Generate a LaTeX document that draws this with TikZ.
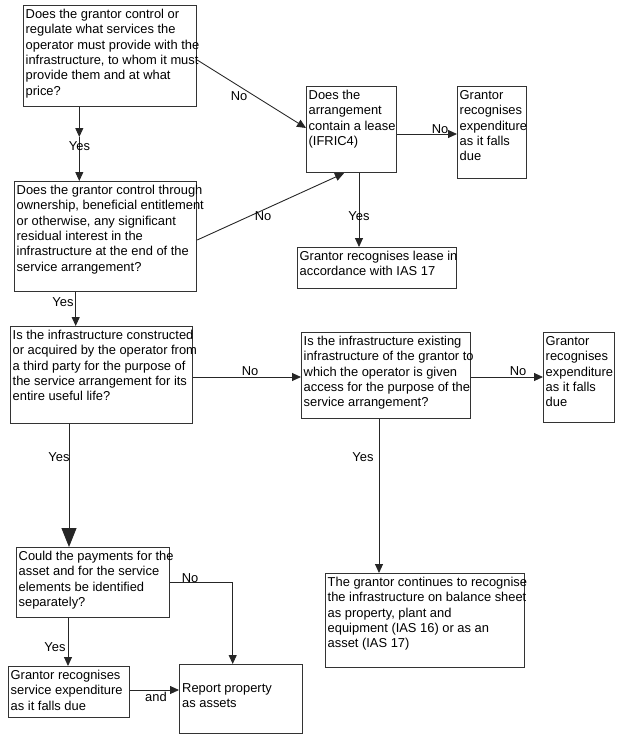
\documentclass[tikz,border=0pt]{standalone}
\usepackage{fontspec}
\setmainfont{Liberation Sans}
\usetikzlibrary{arrows.meta}
\newcommand\flowbox[6]{%
  \node[box,minimum width=#4pt,minimum height=#5pt] (#1) at (#2,#3) {};
  \node[txt] (#1t) at ([xshift=2.5pt,yshift=-2.6pt]#1.north west) {\strut#6};
}
\begin{document}
\begin{tikzpicture}[x=1pt,y=-1pt,
  box/.style={draw=black!80,line width=1.2pt,inner sep=0pt,anchor=north west},
  txt/.style={inner sep=0pt,anchor=north west,align=left,font=\fontsize{12.9}{15.3}\selectfont},
  lbl/.style={inner sep=0pt,anchor=base,font=\fontsize{12.9}{15.3}\selectfont},
  conn/.style={draw=black!85,line width=0.9pt},
  arr/.style={conn,-{Triangle[length=9pt,width=8pt]}},
  bigarr/.style={conn,-{Triangle[length=19pt,width=15pt]}}]
\useasboundingbox (0,0) rectangle (630,739);

\flowbox{A}{23}{5}{173}{101}{Does the grantor control or\\regulate what services the\\operator must provide with the\\infrastructure, to whom it must\\provide them and at what\\price?}
\flowbox{B}{306}{86}{90}{86}{Does the\\arrangement\\contain a lease\\(IFRIC4)}
\flowbox{C}{457}{86}{69}{92}{Grantor\\recognises\\expenditure\\as it falls\\due}
\flowbox{D}{14}{181}{182}{110}{Does the grantor control through\\ownership, beneficial entitlement\\or otherwise, any significant\\residual interest in the\\infrastructure at the end of the\\service arrangement?}
\flowbox{E}{297}{247}{159}{41}{Grantor recognises lease in\\accordance with IAS 17}
\flowbox{F}{10}{326}{182}{97}{Is the infrastructure constructed\\or acquired by the operator from\\a third party for the purpose of\\the service arrangement for its\\entire useful life?}
\flowbox{G}{301}{332}{169}{86}{Is the infrastructure existing\\infrastructure of the grantor to\\which the operator is given\\access for the purpose of the\\service arrangement?}
\flowbox{H}{543}{332}{71}{90}{Grantor\\recognises\\expenditure\\as it falls\\due}
\flowbox{I}{16}{547}{153}{70}{Could the payments for the\\asset and for the service\\elements be identified\\separately?}
\flowbox{J}{325}{573}{199}{94}{The grantor continues to recognise\\the infrastructure on balance sheet\\as property, plant and\\equipment (IAS 16) or as an\\asset (IAS 17)}
\flowbox{K}{8}{666}{121}{51}{Grantor recognises\\service expenditure\\as it falls due}
\node[box,minimum width=123pt,minimum height=69pt] (L) at (179,664) {};
\node[txt] (Lt) at ([xshift=3pt,yshift=-17.3pt]L.north west) {\strut Report property\\as assets};

% connectors
\coordinate (ad) at (79.3,137);
\draw[arr] (A.south -| 79.3,0) -- (ad);
\draw[arr] (ad) -- (D.north -| 79.3,0);
\draw[arr] (A.east |- 0,60) -- (B.west |- 0,128);
\draw[arr] (B.east |- 0,134) -- (C.west |- 0,134);
\draw[arr] (D.east |- 0,240) -- (B.south -| 344,0);
\draw[arr] (B.south -| 359,0) -- (E.north -| 359,0);
\draw[arr] (D.south -| 75.7,0) -- (F.north -| 75.7,0);
\draw[arr] (F.east |- 0,377) -- (G.west |- 0,377);
\draw[arr] (G.east |- 0,377) -- (H.west |- 0,377);
\draw[bigarr] (F.south -| 69,0) -- (I.north -| 69,0);
\draw[arr] (G.south -| 379,0) -- (J.north -| 379,0);
\coordinate (il) at (232.7,582.7);
\draw[arr] (I.east |- il) -- (il) -- (L.north -| il);
\draw[arr] (I.south -| 68,0) -- (K.north -| 68,0);
\draw[arr] (K.east |- 0,690) -- (L.west |- 0,690);

% labels
\node[lbl] (l1) at (239,100) {No};
\node[lbl] (l2) at (79.5,150.5) {Yes};
\node[lbl] (l3) at (440,133) {No};
\node[lbl] (l4) at (263,220) {No};
\node[lbl] (l5) at (359,220) {Yes};
\node[lbl] (l6) at (63,306) {Yes};
\node[lbl] (l7) at (250,375) {No};
\node[lbl] (l8) at (59,461) {Yes};
\node[lbl] (l9) at (518,375) {No};
\node[lbl] (l10) at (363,461.5) {Yes};
\node[lbl] (l11) at (190,582) {No};
\node[lbl] (l12) at (55,651) {Yes};
\node[lbl] (l13) at (156,701.5) {and};
\end{tikzpicture}
\end{document}
